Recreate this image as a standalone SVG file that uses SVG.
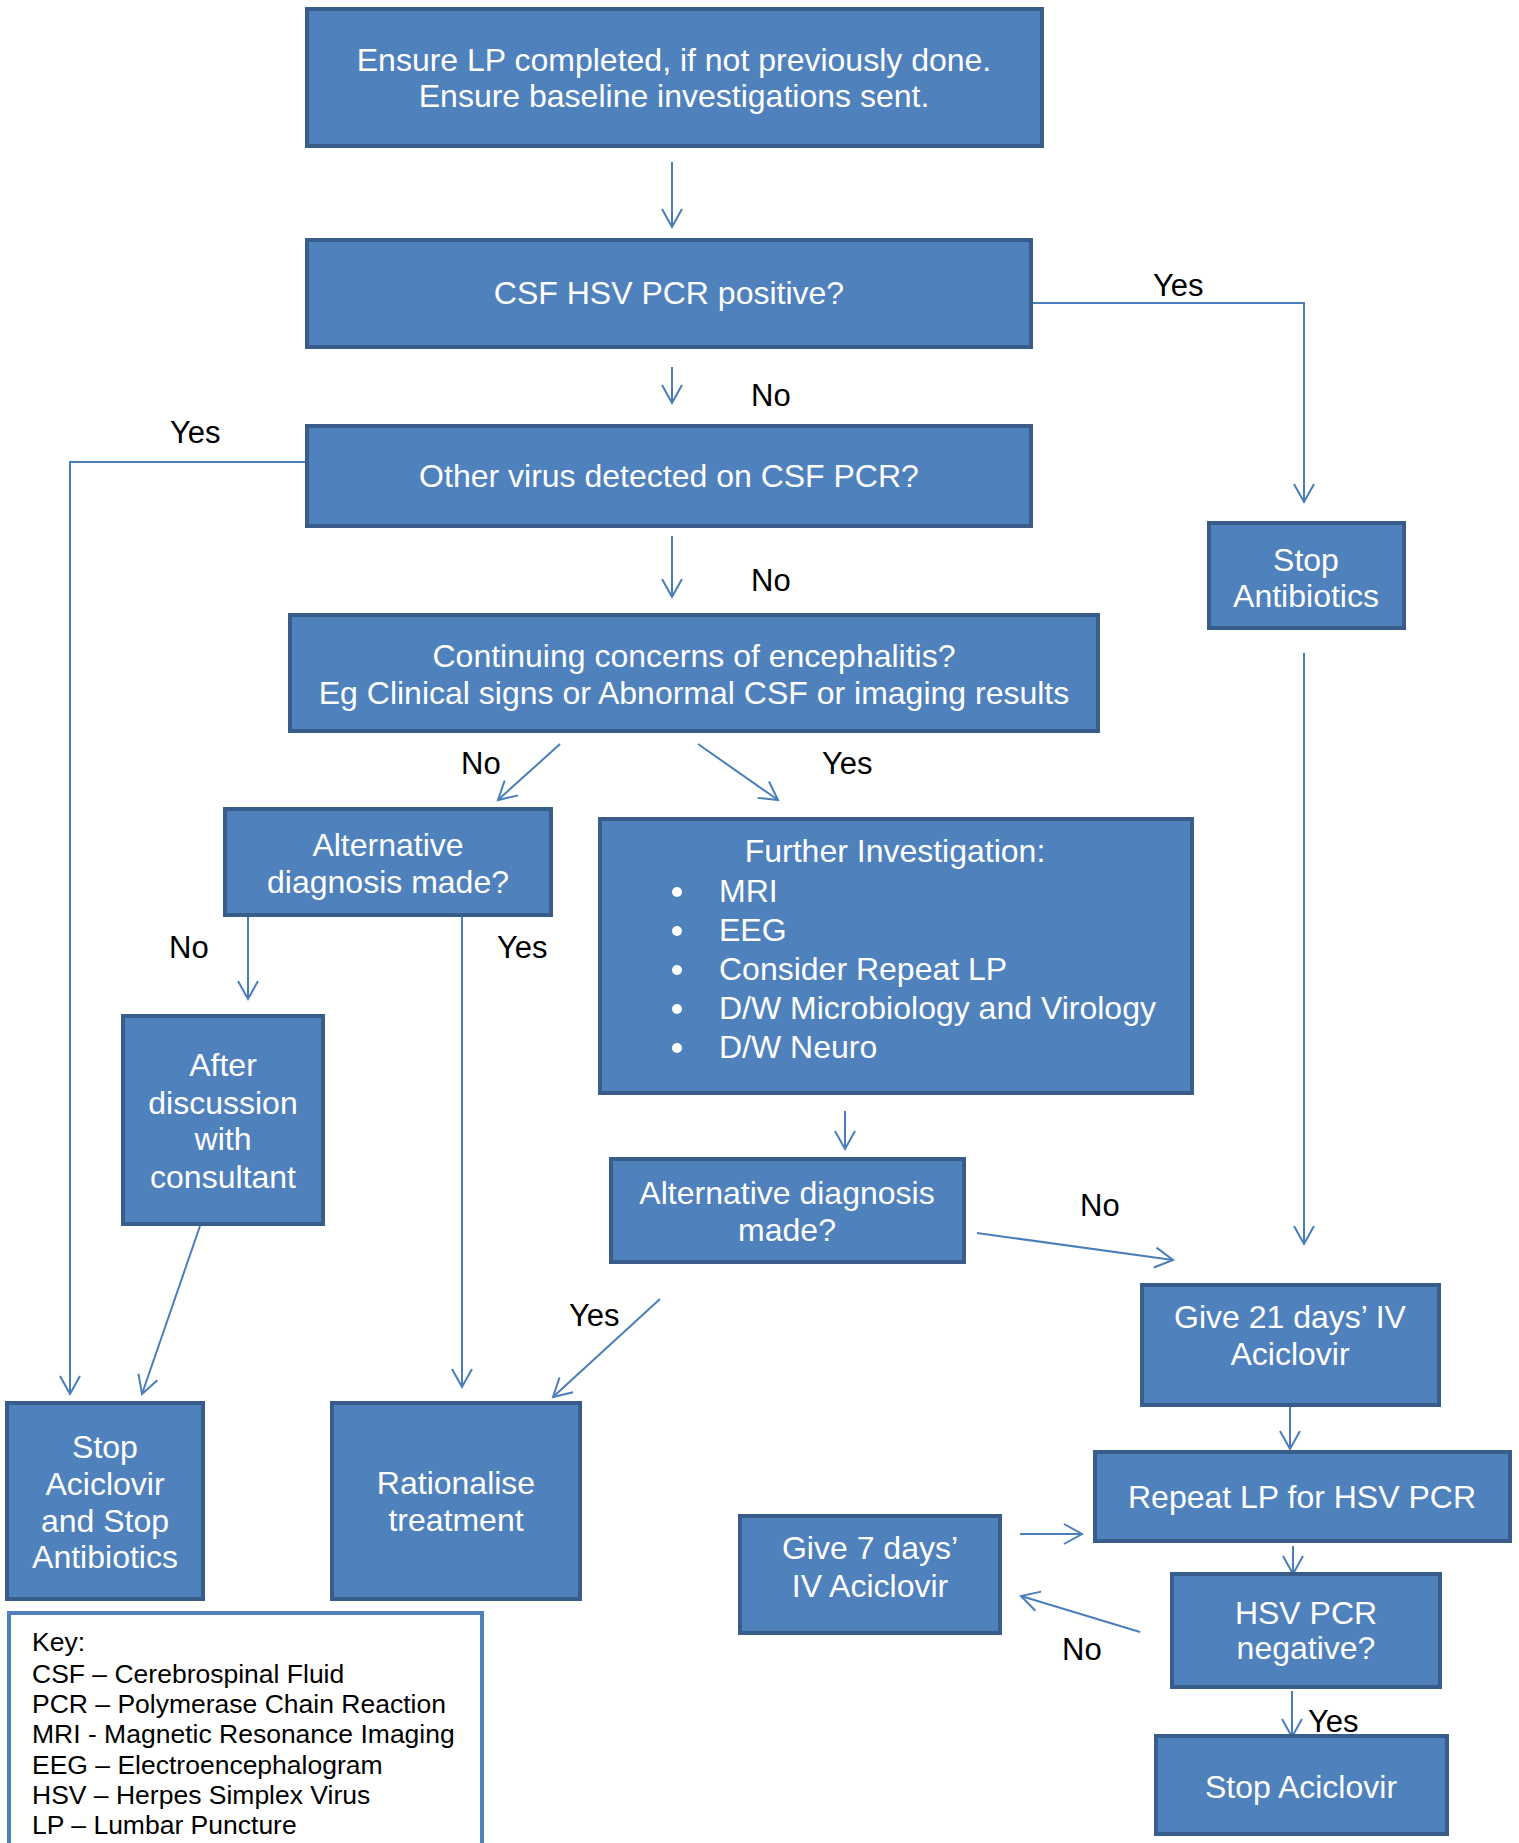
<svg xmlns="http://www.w3.org/2000/svg" width="1519" height="1843" viewBox="0 0 1519 1843">
<defs>
<style>
.box{fill:#4F81BD;stroke:#385D8A;stroke-width:4}
.t{font-family:"Liberation Sans",Arial,sans-serif;font-size:32px;fill:#fff;text-anchor:middle}
.tl{font-family:"Liberation Sans",Arial,sans-serif;font-size:32px;fill:#fff}
.lbl{font-family:"Liberation Sans",Arial,sans-serif;font-size:31px;fill:#000}
.key{font-family:"Liberation Sans",Arial,sans-serif;font-size:26.5px;fill:#000}
.c{fill:none;stroke:#4A7EBB;stroke-width:2}
</style>
<marker id="ah" markerUnits="userSpaceOnUse" markerWidth="24" markerHeight="24" viewBox="-20 -12 24 24" refX="0" refY="0" orient="auto">
<path d="M-18,-10 L0,0 L-18,10" fill="none" stroke="#4A7EBB" stroke-width="2"/>
</marker>
</defs>
<rect width="1519" height="1843" fill="#fff"/>

<g id="connectors">
<path class="c" d="M672,162 L672,227" marker-end="url(#ah)"/>
<path class="c" d="M1031,303 L1304,303 L1304,502" marker-end="url(#ah)"/>
<path class="c" d="M672,367 L672,403" marker-end="url(#ah)"/>
<path class="c" d="M307,462 L70,462 L70,1394" marker-end="url(#ah)"/>
<path class="c" d="M672,536 L672,597" marker-end="url(#ah)"/>
<path class="c" d="M560,744 L498,800" marker-end="url(#ah)"/>
<path class="c" d="M698,744 L778,800" marker-end="url(#ah)"/>
<path class="c" d="M248,916 L248,999" marker-end="url(#ah)"/>
<path class="c" d="M462,916 L462,1387" marker-end="url(#ah)"/>
<path class="c" d="M200,1226 L142,1394" marker-end="url(#ah)"/>
<path class="c" d="M845,1111 L845,1149" marker-end="url(#ah)"/>
<path class="c" d="M977,1233 L1173,1260" marker-end="url(#ah)"/>
<path class="c" d="M660,1299 L553,1397" marker-end="url(#ah)"/>
<path class="c" d="M1304,653 L1304,1244" marker-end="url(#ah)"/>
<path class="c" d="M1290,1405 L1290,1449" marker-end="url(#ah)"/>
<path class="c" d="M1020,1534 L1082,1534" marker-end="url(#ah)"/>
<path class="c" d="M1293,1546 L1293,1574" marker-end="url(#ah)"/>
<path class="c" d="M1140,1632 L1021,1596" marker-end="url(#ah)"/>
<path class="c" d="M1292,1691 L1292,1737" marker-end="url(#ah)"/>
</g>

<g id="labels">
<text class="lbl" x="1153" y="296">Yes</text>
<text class="lbl" x="751" y="406">No</text>
<text class="lbl" x="170" y="443">Yes</text>
<text class="lbl" x="751" y="591">No</text>
<text class="lbl" x="461" y="774">No</text>
<text class="lbl" x="822" y="774">Yes</text>
<text class="lbl" x="169" y="958">No</text>
<text class="lbl" x="497" y="958">Yes</text>
<text class="lbl" x="1080" y="1216">No</text>
<text class="lbl" x="569" y="1326">Yes</text>
<text class="lbl" x="1062" y="1660">No</text>
<text class="lbl" x="1308" y="1732">Yes</text>
</g>

<g id="n1"><rect class="box" x="307" y="9" width="735" height="137"/>
<text class="t" x="674" y="71">Ensure LP completed, if not previously done.</text>
<text class="t" x="674" y="107">Ensure baseline investigations sent.</text></g>

<g id="n2"><rect class="box" x="307" y="240" width="724" height="107"/>
<text class="t" x="669" y="304">CSF HSV PCR positive?</text></g>

<g id="n3"><rect class="box" x="307" y="426" width="724" height="100"/>
<text class="t" x="669" y="487">Other virus detected on CSF PCR?</text></g>

<g id="n4"><rect class="box" x="290" y="615" width="808" height="116"/>
<text class="t" x="694" y="667">Continuing concerns of encephalitis?</text>
<text class="t" x="694" y="704">Eg Clinical signs or Abnormal CSF or imaging results</text></g>

<g id="n5"><rect class="box" x="1209" y="523" width="195" height="105"/>
<text class="t" x="1306" y="571">Stop</text>
<text class="t" x="1306" y="607">Antibiotics</text></g>

<g id="n6"><rect class="box" x="225" y="809" width="326" height="106"/>
<text class="t" x="388" y="856">Alternative</text>
<text class="t" x="388" y="893">diagnosis made?</text></g>

<g id="n7"><rect class="box" x="600" y="819" width="592" height="274"/>
<text class="t" x="895" y="862">Further Investigation:</text>
<circle cx="677" cy="892" r="5" fill="#fff"/><text class="tl" x="719" y="902">MRI</text>
<circle cx="677" cy="931" r="5" fill="#fff"/><text class="tl" x="719" y="941">EEG</text>
<circle cx="677" cy="970" r="5" fill="#fff"/><text class="tl" x="719" y="980">Consider Repeat LP</text>
<circle cx="677" cy="1009" r="5" fill="#fff"/><text class="tl" x="719" y="1019">D/W Microbiology and Virology</text>
<circle cx="677" cy="1048" r="5" fill="#fff"/><text class="tl" x="719" y="1058">D/W Neuro</text></g>

<g id="n8"><rect class="box" x="123" y="1016" width="200" height="208"/>
<text class="t" x="223" y="1076">After</text>
<text class="t" x="223" y="1114">discussion</text>
<text class="t" x="223" y="1150">with</text>
<text class="t" x="223" y="1188">consultant</text></g>

<g id="n9"><rect class="box" x="611" y="1159" width="353" height="103"/>
<text class="t" x="787" y="1204">Alternative diagnosis</text>
<text class="t" x="787" y="1241">made?</text></g>

<g id="n10"><rect class="box" x="1142" y="1285" width="297" height="120"/>
<text class="t" x="1290" y="1328">Give 21 days’ IV</text>
<text class="t" x="1290" y="1365">Aciclovir</text></g>

<g id="n11"><rect class="box" x="7" y="1403" width="196" height="196"/>
<text class="t" x="105" y="1458">Stop</text>
<text class="t" x="105" y="1495">Aciclovir</text>
<text class="t" x="105" y="1532">and Stop</text>
<text class="t" x="105" y="1568">Antibiotics</text></g>

<g id="n12"><rect class="box" x="332" y="1403" width="248" height="196"/>
<text class="t" x="456" y="1494">Rationalise</text>
<text class="t" x="456" y="1531">treatment</text></g>

<g id="n13"><rect class="box" x="1095" y="1452" width="415" height="89"/>
<text class="t" x="1302" y="1508">Repeat LP for HSV PCR</text></g>

<g id="n14"><rect class="box" x="740" y="1516" width="260" height="117"/>
<text class="t" x="870" y="1559">Give 7 days’</text>
<text class="t" x="870" y="1597">IV Aciclovir</text></g>

<g id="n15"><rect class="box" x="1172" y="1574" width="268" height="113"/>
<text class="t" x="1306" y="1624">HSV PCR</text>
<text class="t" x="1306" y="1659">negative?</text></g>

<g id="n16"><rect class="box" x="1156" y="1736" width="291" height="98"/>
<text class="t" x="1301" y="1798">Stop Aciclovir</text></g>

<g id="key"><rect x="9" y="1613" width="473" height="260" fill="#fff" stroke="#4F81BD" stroke-width="4"/>
<text class="key" x="32" y="1651">Key:</text>
<text class="key" x="32" y="1683">CSF – Cerebrospinal Fluid</text>
<text class="key" x="32" y="1713">PCR – Polymerase Chain Reaction</text>
<text class="key" x="32" y="1743">MRI - Magnetic Resonance Imaging</text>
<text class="key" x="32" y="1774">EEG – Electroencephalogram</text>
<text class="key" x="32" y="1804">HSV – Herpes Simplex Virus</text>
<text class="key" x="32" y="1834">LP – Lumbar Puncture</text></g>
</svg>
